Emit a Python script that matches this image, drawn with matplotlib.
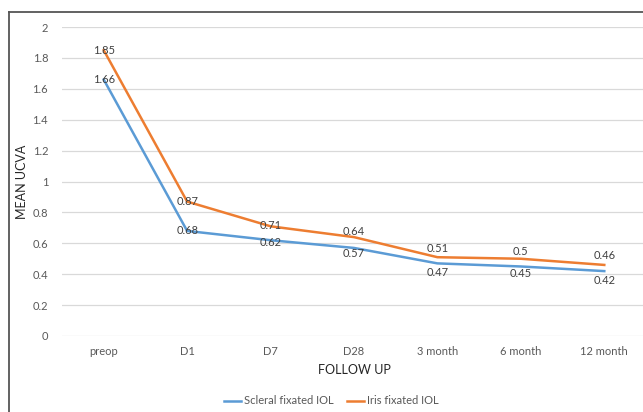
import matplotlib
matplotlib.use("Agg")
import matplotlib.pyplot as plt
from matplotlib.lines import Line2D

categories = ["preop", "D1", "D7", "D28", "3 month", "6 month", "12 month"]
scleral = [1.66, 0.68, 0.62, 0.57, 0.47, 0.45, 0.42]
iris = [1.85, 0.87, 0.71, 0.64, 0.51, 0.5, 0.46]
yticks = [0, 0.2, 0.4, 0.6, 0.8, 1, 1.2, 1.4, 1.6, 1.8, 2]
ytick_labels = ["0", "0.2", "0.4", "0.6", "0.8", "1", "1.2", "1.4", "1.6", "1.8", "2"]

# vertical label offsets (points) used to keep data labels apart
scleral_label_dy = [0, 0, -1.5, -4, -6.5, -5, -7]
iris_label_dy = [0, 0, 0.5, 4, 6.5, 5.5, 6.5]

plt.rcParams['font.family'] = ['Lato', 'DejaVu Sans']

W, H = 643, 412
fig = plt.figure(figsize=(W / 100, H / 100), dpi=100)
ax = fig.add_axes([62 / W, 1 - 336 / H, (646 - 62) / W, (336 - 27) / H])

blue = "#5B9BD5"
orange = "#ED7D31"
x = list(range(len(categories)))
ax.plot(x, scleral, color=blue, lw=1.8, zorder=3, solid_joinstyle='round')
ax.plot(x, iris, color=orange, lw=1.8, zorder=3, solid_joinstyle='round')

for xi, v, dy in zip(x, scleral, scleral_label_dy):
    ax.annotate(f"{v:g}", (xi, v), xytext=(0, dy), textcoords='offset points',
                ha='center', va='center', fontsize=8, color="#404040", zorder=4)
for xi, v, dy in zip(x, iris, iris_label_dy):
    ax.annotate(f"{v:g}", (xi, v), xytext=(0, dy), textcoords='offset points',
                ha='center', va='center', fontsize=8, color="#404040", zorder=4)

ax.set_xlim(-0.5, len(categories) - 0.5)
ax.set_ylim(0, 2)
ax.set_yticks(yticks)
ax.set_yticklabels(ytick_labels)
ax.set_xticks(x)
ax.set_xticklabels(categories)
ax.tick_params(axis='both', length=0, labelsize=8, colors="#595959")
ax.tick_params(axis='y', pad=10)
ax.tick_params(axis='x', pad=7.5)
ax.grid(axis='y', color="#D9D9D9", lw=0.9)
ax.set_axisbelow(True)
for s in ax.spines.values():
    s.set_visible(False)

ax.set_ylabel("MEAN UCVA", fontsize=9, color="#262626", labelpad=3)
ax.set_xlabel("FOLLOW UP", fontsize=9, color="#262626", labelpad=5)

handles = [Line2D([], [], color=blue, lw=1.8), Line2D([], [], color=orange, lw=1.8)]
fig.legend(handles, ["Scleral fixated IOL", "Iris fixated IOL"], loc='center',
           bbox_to_anchor=(331 / W, 1 - 401 / H), ncol=2, frameon=False,
           fontsize=8, labelcolor="#595959", handlelength=1.6, handletextpad=0.2,
           columnspacing=1.2)

# outer chart frame (cropped on right and bottom)
fig.add_artist(Line2D([9 / W, 9 / W], [0, 1 - 12 / H], transform=fig.transFigure,
                      color="#555555", lw=1.3))
fig.add_artist(Line2D([9 / W, 1], [1 - 12 / H, 1 - 12 / H], transform=fig.transFigure,
                      color="#555555", lw=1.3))

fig.savefig("out.png", dpi=100)
